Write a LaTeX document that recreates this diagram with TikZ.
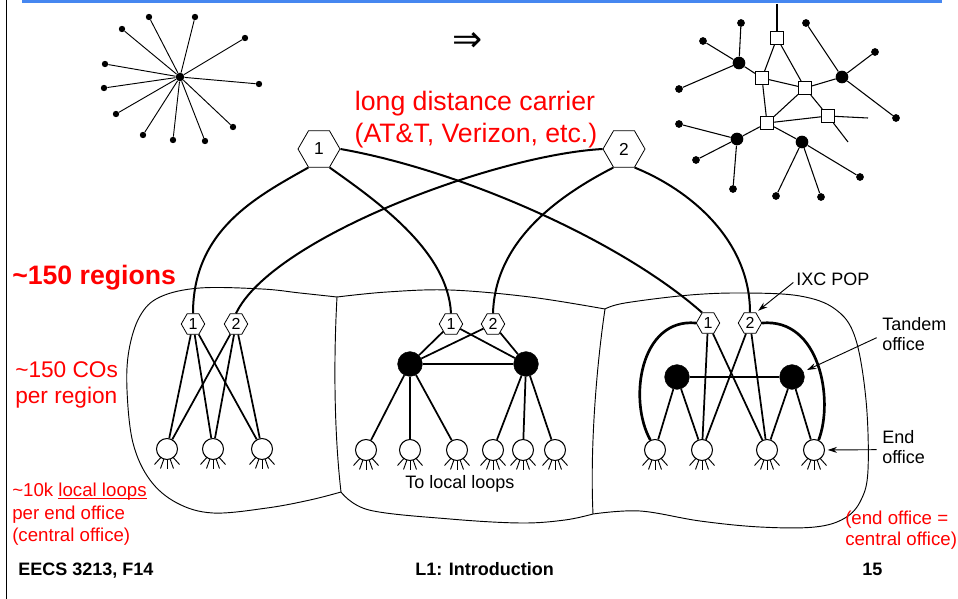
\documentclass[tikz,border=0pt]{standalone}
\usepackage{fontspec}
\setmainfont{Liberation Sans}
\newfontfamily\djv{DejaVu Sans}
\usetikzlibrary{shapes.geometric,arrows.meta}
\definecolor{barblue}{RGB}{70,135,240}
\definecolor{lred}{RGB}{255,0,0}
\newcommand\ulx[1]{\leavevmode\setbox0=\hbox{#1}\rlap{\rule[-2.2pt]{\wd0}{0.9pt}}\box0}
\begin{document}
\begin{tikzpicture}[x=0.75pt,y=-0.75pt,
 every node/.style={inner sep=0pt},
 hexbig/.style={draw, fill=white, line width=0.6pt, regular polygon, regular polygon sides=6, minimum size=31.5pt, font=\fontsize{13}{13}\selectfont},
 hexsm/.style={draw, fill=white, line width=0.6pt, regular polygon, regular polygon sides=6, minimum size=17.6pt, font=\fontsize{12}{12}\selectfont},
 tandem/.style={circle, fill=black, draw=black, minimum size=18.5pt},
 endoff/.style={circle, draw, fill=white, line width=0.8pt, minimum size=15.75pt},
 ldline/.style={line width=1.5pt},
 conn/.style={line width=1.3pt},
 arcline/.style={line width=2pt},
 legline/.style={line width=0.7pt},
 regionline/.style={line width=0.7pt},
 pointer/.style={line width=0.7pt, -{Stealth[length=7pt,width=4.5pt]}},
 netline/.style={line width=0.8pt},
 sdot/.style={circle, fill=black, minimum size=4.8pt},
 mdot/.style={circle, fill=black, minimum size=5.8pt},
 bdot/.style={circle, fill=black, minimum size=9.5pt},
 sq/.style={draw, fill=white, rectangle, minimum size=10pt, line width=0.6pt},
 bigred/.style={text=lred, font=\fontsize{20}{24}\selectfont},
 midred/.style={text=lred, font=\fontsize{17}{20}\selectfont},
 smallred/.style={text=lred, font=\fontsize{14}{16}\selectfont},
 lbl/.style={font=\fontsize{13.5}{15}\selectfont},
 foot/.style={font=\bfseries\fontsize{13.5}{15}\selectfont}
]
\useasboundingbox (0,0) rectangle (958,599);
% frame decorations
\fill[barblue] (22,0) rectangle (942,3.3);
\draw[line width=1.1pt] (6.5,0) -- (6.5,599);

% star network
\node[sdot, minimum size=6.5pt] (sc) at (180,77) {};
\foreach \p/\q [count=\i] in {149/17,195/17,122/29,245/38,105/64,259/84,104/88,116/114,233/127,143/135,173/140,205/141}{
  \node[sdot] (s\i) at (\p,\q) {};
  \draw[netline, line width=0.7pt] (sc) -- (s\i);
}
\node[font=\djv\fontsize{27}{27}\selectfont] (impl) at (468,42) {⇒};

% hierarchical network
\coordinate (ntop) at (777,4);
\coordinate (ne1) at (868,118);
\coordinate (ne2) at (848,142);
\node[sq] (na) at (777,38) {};
\node[sq] (nb) at (762,78) {};
\node[sq] (nc) at (805,88) {};
\node[sq] (nd) at (767,123) {};
\node[sq] (ne) at (828,116) {};
\node[bdot] (nf) at (739,63) {};
\node[bdot] (ng) at (842,77) {};
\node[bdot] (nh) at (737,139) {};
\node[bdot] (ni) at (802,142) {};
\foreach \nm/\p/\q in {f1/741/23, f2/703/41, f3/679/89, g1/806/23, g2/875/52, g3/896/118, h1/679/124, h2/696/160, h3/733/189, i1/776/196, i2/821/197, i3/860/177}
  \node[mdot] (n\nm) at (\p,\q) {};
\foreach \a/\b in {ntop/na, na/nb, na/nc, nb/nc, nb/nd, nc/nd, nc/ne, nd/ne, ne/ne1, ne/ne2, nf/nb, ng/nc, nh/nd, ni/nd, nf/nf1, nf/nf2, nf/nf3, ng/ng1, ng/ng2, ng/ng3, nh/nh1, nh/nh2, nh/nh3, ni/ni1, ni/ni2, ni/ni3}
  \draw[netline] (\a) -- (\b);

% region outlines
\coordinate (tj1) at (337,297);
\coordinate (bj1) at (341,492);
\coordinate (tj2) at (605,309);
\coordinate (bj2) at (593,514);
\draw[regionline] plot[smooth, tension=0.6] coordinates {(tj1) (300,293) (262,289) (200,288) (160,297) (140,316) (129,350) (127,390) (133,443) (150,480) (177,503) (213,513) (267,508) (310,500) (bj1)};
\draw[regionline] plot[smooth, tension=0.6] coordinates {(tj1) (387,292) (450,290) (530,297) (tj2)};
\draw[regionline] plot[smooth, tension=0.6] coordinates {(bj1) (369,510) (450,519) (521,523) (565,520) (bj2)};
\draw[regionline] plot[smooth, tension=0.6] coordinates {(tj2) (625,303) (690,295) (745,293) (800,296) (835,309) (855,337) (866,400) (868,470) (861,500) (845,518) (815,527) (760,527) (700,521) (640,511) (bj2)};
\draw[regionline] (tj1) .. controls (333,370) and (335,440) .. (bj1);
\draw[regionline] (tj2) .. controls (596,370) and (590,450) .. (bj2);

% long distance carrier POPs
\node[hexbig] (c1) at (319,149) {1};
\node[hexbig] (c2) at (624,149) {2};
\node[bigred, anchor=base] (lc1) at (475,111) {long distance carrier};
\node[bigred, anchor=base] (lc2) at (476,143) {(AT\&T, Verizon, etc.)};

% regional IXC POPs
\node[hexsm] (l1) at (193,324) {1};
\node[hexsm] (l2) at (236,324) {2};
\node[hexsm] (m1) at (451,324) {1};
\node[hexsm] (m2) at (493,324) {2};
\node[hexsm] (r1) at (708,323) {1};
\node[hexsm] (r2) at (750,323) {2};

% tandem offices
\node[tandem] (mt1) at (410,364) {};
\node[tandem] (mt2) at (526,364) {};
\node[tandem] (rt1) at (677,377) {};
\node[tandem] (rt2) at (792,377) {};

% end offices
\foreach \nm/\p in {le1/167, le2/213, le3/262}
  \node[endoff] (\nm) at (\p,449) {};
\foreach \nm/\p in {me1/366, me2/410, me3/457, me4/493, me5/523, me6/555, re1/655, re2/702, re3/767, re4/814}
  \node[endoff] (\nm) at (\p,450) {};
\foreach \nm in {le1,le2,le3,me1,me2,me3,me4,me5,me6,re1,re2,re3,re4}{
  \draw[legline] ([shift={(-6.2,8.5)}]\nm.center) -- ([shift={(-12.5,15.5)}]\nm.center);
  \draw[legline] ([shift={(-3.1,10)}]\nm.center) -- ([shift={(-6.5,19.5)}]\nm.center);
  \draw[legline] ([shift={(0,10.5)}]\nm.center) -- ([shift={(0,20)}]\nm.center);
  \draw[legline] ([shift={(3.1,10)}]\nm.center) -- ([shift={(6.5,19.5)}]\nm.center);
  \draw[legline] ([shift={(6.2,8.5)}]\nm.center) -- ([shift={(12.5,15.5)}]\nm.center);
}

% long distance links
\draw[ldline] (c1.-120) .. controls (256,197) and (193,230) .. (l1.90);
\draw[ldline] (c1.-60) .. controls (375,200) and (448,250) .. (m1.90);
\draw[ldline] (c1.0) .. controls (460,170) and (620,240) .. (r1.120);
\draw[ldline] (c2.180) .. controls (495,155) and (272,238) .. (l2.90);
\draw[ldline] (c2.-120) .. controls (560,195) and (495,240) .. (m2.90);
\draw[ldline] (c2.-60) .. controls (690,190) and (750,240) .. (r2.90);

% regional links
\foreach \a/\b in {l1/le1,l1/le2,l1/le3,l2/le1,l2/le2,l2/le3, m1/mt1, m1/mt2, m2/mt1, m2/mt2, mt1/mt2, mt1/me1, mt1/me2, mt1/me3, mt2/me4, mt2/me5, mt2/me6, rt1/rt2, rt1/re1, rt1/re2, rt2/re3, rt2/re4, r1/re2, r1/re3, r2/re2, r2/re3}
  \draw[conn] (\a) -- (\b);
\draw[arcline] (r1.180) .. controls (640,318) and (628,400) .. (re1.115);
\draw[arcline] (r2.0) .. controls (820,318) and (834,400) .. (re4.65);

% labels
\node[text=lred, font=\bfseries\fontsize{20}{24}\selectfont, anchor=base west] (regions) at (12,285) {\textasciitilde150 regions};
\node[midred, anchor=base west] (cos1) at (15,378) {\textasciitilde150 COs};
\node[midred, anchor=base west] (cos2) at (15,403) {per region};
\node[smallred, anchor=base west] (ll1) at (12,496) {\textasciitilde10k \ulx{local loops}};
\node[smallred, anchor=base west] (ll2) at (12,519) {per end office};
\node[smallred, anchor=base west] (ll3) at (12,541) {(central office)};
\node[smallred, anchor=base west] (eq1) at (845,524) {(end office =};
\node[smallred, anchor=base west] (eq2) at (845,545) {central office)};
\node[lbl, anchor=base] (tll) at (460,488) {To local loops};
\node[lbl, anchor=base west] (ixc) at (796,286) {IXC POP};
\node[lbl, anchor=base west] (tand1) at (882,331) {Tandem};
\node[lbl, anchor=base west] (tand2) at (882,351) {office};
\node[lbl, anchor=base west] (endl1) at (882,443) {End};
\node[lbl, anchor=base west] (endl2) at (882,463) {office};
\draw[pointer, shorten >=2pt] ([xshift=-2pt,yshift=-2pt]ixc.west) -- (r2.60);
\draw[pointer, shorten >=3pt] ([xshift=-4pt]tand2.north west) -- (rt2);
\draw[pointer, shorten >=2pt] ([xshift=-4pt]endl2.north west) -- (re4);

% footer
\node[foot, anchor=base west] (course) at (18,575) {EECS 3213, F14};
\node[foot, anchor=base west] (lec) at (415,575) {L1: Introduction};
\node[foot, anchor=base west] (pg) at (862,575) {15};
\end{tikzpicture}
\end{document}
